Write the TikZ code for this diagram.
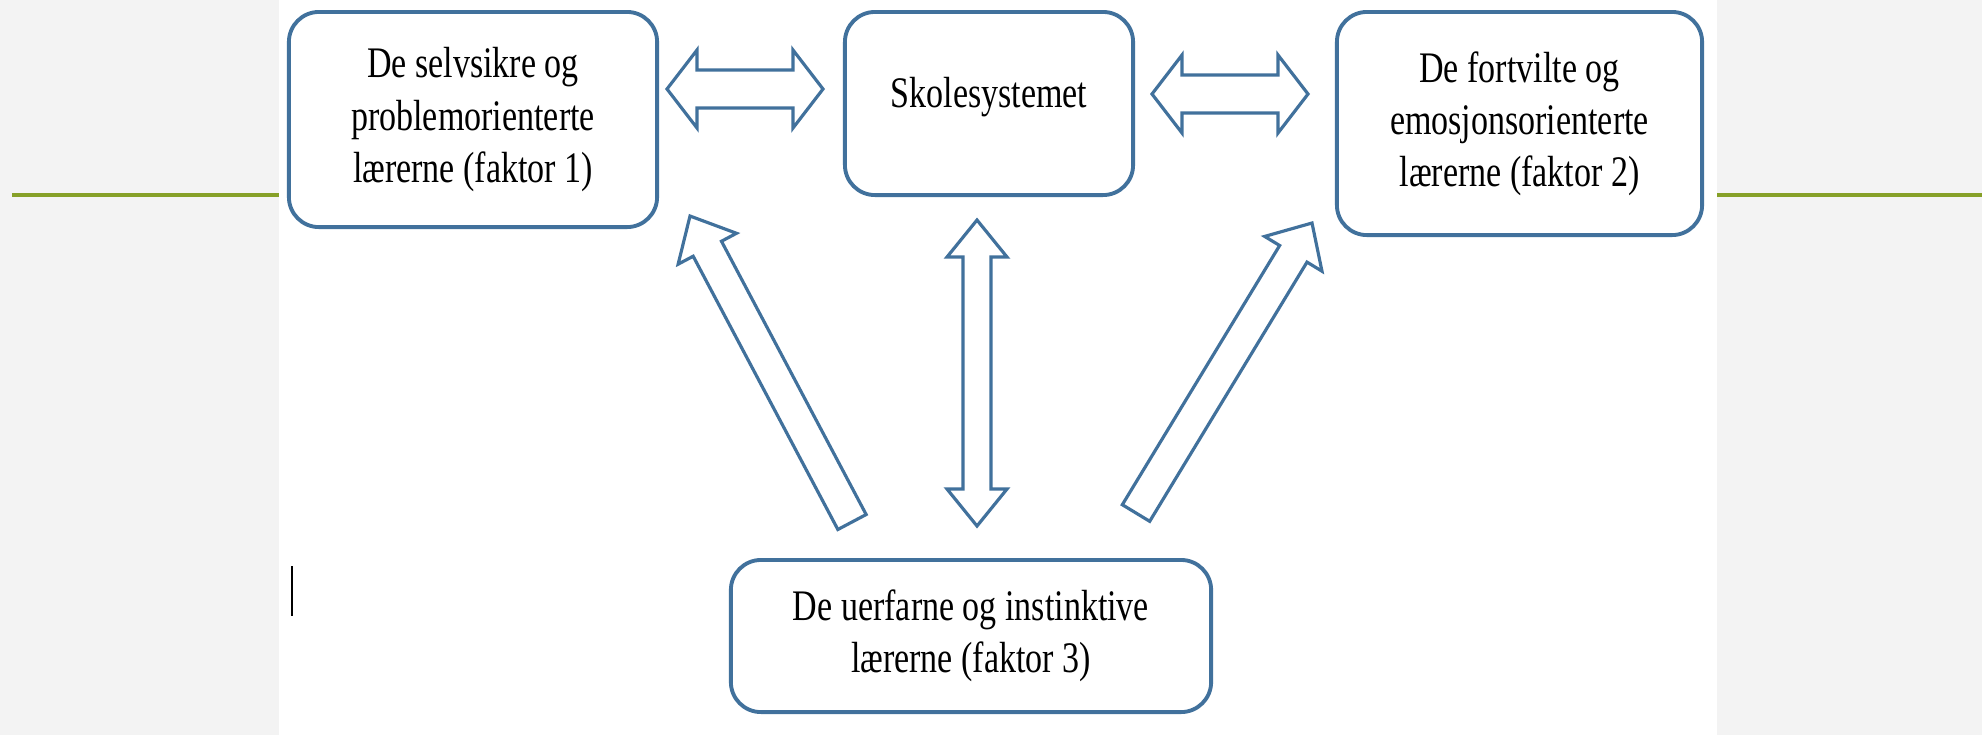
\documentclass[tikz,border=0pt]{standalone}
\usepackage{fontspec}
\newfontfamily\boxfont[FakeStretch=0.78]{Liberation Serif}
\usetikzlibrary{calc}

\definecolor{kantblaa}{RGB}{65,113,156}
\definecolor{linjegronn}{RGB}{134,160,40}
\definecolor{bakgrunn}{RGB}{243,243,243}

% hollow block arrows: tail/first end, tip/second end, half shaft, half head, head length
\newcommand{\enkelpil}[5]{%
  \coordinate (hb) at ($(#2)!#5!(#1)$);
  \draw[pil] ($(#1)!#3!90:(#2)$) -- ($(hb)!#3!90:(#2)$) -- ($(hb)!#4!90:(#2)$) -- (#2)
    -- ($(hb)!#4!-90:(#2)$) -- ($(hb)!#3!-90:(#2)$) -- ($(#1)!#3!-90:(#2)$) -- cycle;
}
\newcommand{\dobbelpil}[5]{%
  \coordinate (pa) at ($(#1)!#5!(#2)$);
  \coordinate (pb) at ($(#2)!#5!(#1)$);
  \draw[pil] (#1) -- ($(pa)!#4!90:(#2)$) -- ($(pa)!#3!90:(#2)$) -- ($(pb)!#3!90:(#2)$)
    -- ($(pb)!#4!90:(#2)$) -- (#2) -- ($(pb)!#4!-90:(#2)$) -- ($(pb)!#3!-90:(#2)$)
    -- ($(pa)!#3!-90:(#2)$) -- ($(pa)!#4!-90:(#2)$) -- cycle;
}

\begin{document}
\begin{tikzpicture}[x=0.01cm,y=-0.01cm,text centered,
  boks/.style={draw=kantblaa,line width=1.1pt,rounded corners=0.3cm,fill=white,
    align=center,inner sep=0pt,font=\boxfont\fontsize{12.4}{14.8}\selectfont},
  pil/.style={draw=kantblaa,line width=0.9pt,fill=white}]

  \useasboundingbox (0,0) rectangle (1982,735);
  \fill[bakgrunn] (0,0) rectangle (1982,735);
  \fill[white] (279,0) rectangle (1717,735);
  \draw[linjegronn,line width=1pt] (12,195) -- (279,195);
  \draw[linjegronn,line width=1pt] (1717,195) -- (1982,195);

  \node (selv) at (473,119.5) [boks,minimum width=3.68cm,minimum height=2.15cm]
    {De selvsikre og\\problemorienterte\\lærerne (faktor 1)};
  \node (skole) at (989,103.5) [boks,minimum width=2.88cm,minimum height=1.83cm]
    {\raisebox{6.5pt}{Skolesystemet}};
  \node (fortv) at (1519.5,123.5) [boks,minimum width=3.65cm,minimum height=2.23cm]
    {De fortvilte og\\emosjonsorienterte\\lærerne (faktor 2)};
  \node (uerf) at (971,636) [boks,minimum width=4.80cm,minimum height=1.52cm]
    {De uerfarne og instinktive\\lærerne (faktor 3)};

  \coordinate (a1) at (667,89);
  \coordinate (b1) at (823,89);
  \dobbelpil{a1}{b1}{0.19cm}{0.39cm}{0.30cm}

  \coordinate (a2) at (1152,94);
  \coordinate (b2) at (1308,94);
  \dobbelpil{a2}{b2}{0.19cm}{0.39cm}{0.30cm}

  \coordinate (a3) at (977,220);
  \coordinate (b3) at (977,526);
  \dobbelpil{a3}{b3}{0.14cm}{0.30cm}{0.37cm}

  \coordinate (a4) at (852,522);
  \coordinate (b4) at (690,216);
  \enkelpil{a4}{b4}{0.16cm}{0.33cm}{0.37cm}

  \coordinate (a5) at (1136,513);
  \coordinate (b5) at (1312,223);
  \enkelpil{a5}{b5}{0.16cm}{0.335cm}{0.36cm}

  \draw[black,line width=0.45pt] (292,566) -- (292,616);

\end{tikzpicture}
\end{document}
